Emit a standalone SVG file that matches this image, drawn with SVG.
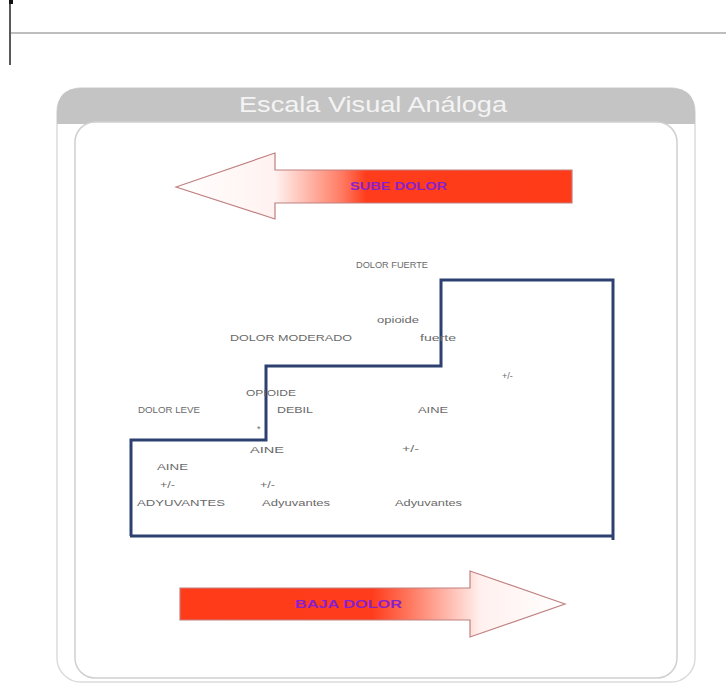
<svg xmlns="http://www.w3.org/2000/svg" width="726" height="694" viewBox="0 0 726 694">
<style>
.lbl{font-family:"Liberation Sans",Arial,sans-serif;font-size:9px;fill:#6a6a6a}
.arr{font-family:"Liberation Sans",Arial,sans-serif;font-size:11px;font-weight:bold;fill:#8a1fd0}
.step{fill:none;stroke:#2c4170;stroke-width:3}
</style>
<defs>
<linearGradient id="gL" x1="176" y1="0" x2="572" y2="0" gradientUnits="userSpaceOnUse">
<stop offset="0" stop-color="#ffffff"/><stop offset="0.25" stop-color="#fff2f0"/><stop offset="0.42" stop-color="#ff7a62"/><stop offset="0.48" stop-color="#ff3d1c"/><stop offset="1" stop-color="#ff3b18"/>
</linearGradient>
<linearGradient id="gR" x1="180" y1="0" x2="565" y2="0" gradientUnits="userSpaceOnUse">
<stop offset="0" stop-color="#ff3b18"/><stop offset="0.5" stop-color="#ff3d1c"/><stop offset="0.6" stop-color="#ff7a62"/><stop offset="0.78" stop-color="#fff0ee"/><stop offset="1" stop-color="#ffffff"/>
</linearGradient>
</defs>
<rect width="726" height="694" fill="#ffffff"/>
<g id="header-line">
<line x1="11" y1="33" x2="726" y2="33" stroke="#a8a8a8" stroke-width="1.5"/>
<line x1="10" y1="0" x2="10" y2="65" stroke="#222" stroke-width="1.5"/>
<rect x="9" y="0" width="4" height="4" fill="#111"/>
</g>
<g id="panel">
<rect x="57" y="88" width="638" height="594" rx="24" fill="#ffffff" stroke="#dcdcdc" stroke-width="1.5"/>
<path d="M57 124 V112 Q57 88 81 88 H671 Q695 88 695 112 V124 Z" fill="#c4c4c4"/>
<rect x="75" y="122" width="602" height="556" rx="20" fill="#ffffff" stroke="#cfcfcf" stroke-width="1.5"/>
<text x="373" y="112" text-anchor="middle" font-family="'Liberation Sans',Arial,sans-serif" font-size="22" fill="#f4f4f4" textLength="268" lengthAdjust="spacingAndGlyphs">Escala Visual Análoga</text>
</g>
<g id="arrow-top">
<path d="M176 187 L275 153 V170 H572 V203 H275 V219 Z" fill="url(#gL)" stroke="#c08080" stroke-width="1.2"/>
<text class="arr" x="350" y="190" textLength="97" lengthAdjust="spacingAndGlyphs">SUBE  DOLOR</text>
</g>
<g id="arrow-bottom">
<path d="M565 604 L470 571 V588 H180 V620 H470 V637 Z" fill="url(#gR)" stroke="#c08080" stroke-width="1.2"/>
<text class="arr" x="295" y="608" textLength="107" lengthAdjust="spacingAndGlyphs">BAJA  DOLOR</text>
</g>
<g id="connectors">
<polyline class="step" points="131,536 131,440 266,440 266,366 441,366 441,280 613,280 613,540"/>
<line class="step" x1="130" y1="536" x2="614" y2="536"/>
</g>
<g id="dolor-fuerte">
<text class="lbl" x="356" y="268" textLength="72" lengthAdjust="spacingAndGlyphs">DOLOR FUERTE</text>
<text class="lbl" x="377" y="323" textLength="42" lengthAdjust="spacingAndGlyphs">opioide</text>
<text class="lbl" x="420" y="341" textLength="36" lengthAdjust="spacingAndGlyphs">fuerte</text>
<text class="lbl" x="502" y="379">+/-</text>
</g>
<g id="dolor-moderado">
<text class="lbl" x="230" y="341" textLength="122" lengthAdjust="spacingAndGlyphs">DOLOR MODERADO</text>
<text class="lbl" x="246" y="396" textLength="50" lengthAdjust="spacingAndGlyphs">OPIOIDE</text>
<text class="lbl" x="277" y="413" textLength="36" lengthAdjust="spacingAndGlyphs">DEBIL</text>
<text class="lbl" x="418" y="413" textLength="30" lengthAdjust="spacingAndGlyphs">AINE</text>
<text class="lbl" x="257" y="432">*</text>
<text class="lbl" x="250" y="453" textLength="34" lengthAdjust="spacingAndGlyphs">AINE</text>
<text class="lbl" x="402" y="452" textLength="17" lengthAdjust="spacingAndGlyphs">+/-</text>
</g>
<g id="dolor-leve">
<text class="lbl" x="138" y="413" textLength="62" lengthAdjust="spacingAndGlyphs">DOLOR LEVE</text>
<text class="lbl" x="157" y="470" textLength="31" lengthAdjust="spacingAndGlyphs">AINE</text>
<text class="lbl" x="160" y="488" textLength="15" lengthAdjust="spacingAndGlyphs">+/-</text>
<text class="lbl" x="260" y="488" textLength="15" lengthAdjust="spacingAndGlyphs">+/-</text>
<text class="lbl" x="137" y="506" textLength="88" lengthAdjust="spacingAndGlyphs">ADYUVANTES</text>
<text class="lbl" x="262" y="506" textLength="68" lengthAdjust="spacingAndGlyphs">Adyuvantes</text>
<text class="lbl" x="395" y="506" textLength="67" lengthAdjust="spacingAndGlyphs">Adyuvantes</text>
</g>
</svg>
